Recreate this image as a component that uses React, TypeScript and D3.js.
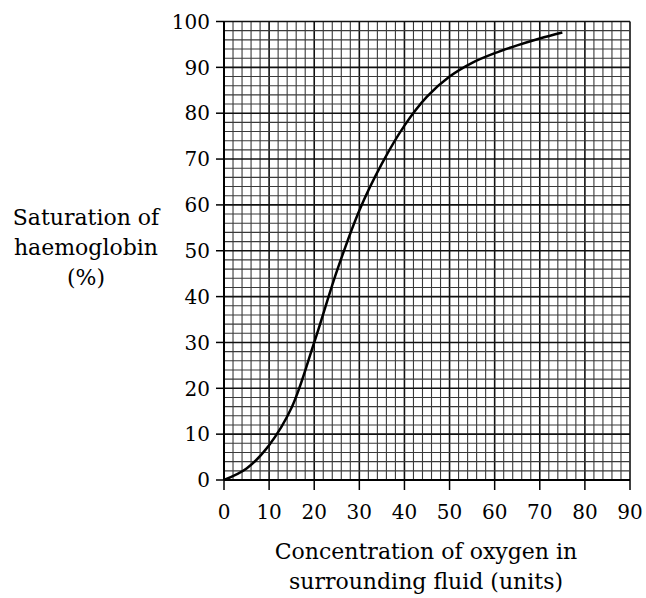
import React from "react";
import * as d3 from "d3";

const oxygen = [0, 5, 10, 15, 20, 25, 30, 35, 40, 45, 50, 55, 60, 65, 70, 75];
const saturation = [0, 2.5, 7.6, 15.8, 30, 45.5, 58.8, 69, 77.3, 83.6, 88.0, 91.0, 93.1, 94.8, 96.3, 97.6];
const xTicks = [0, 10, 20, 30, 40, 50, 60, 70, 80, 90];
const yTicks = [0, 10, 20, 30, 40, 50, 60, 70, 80, 90, 100];
const yTitle = ["Saturation of", "haemoglobin", "(%)"];
const xTitle = ["Concentration of oxygen in", "surrounding fluid (units)"];

const W = 646;
const H = 598;
const FONT = "'DejaVu Serif', serif";

export default function App() {
  const x = d3.scaleLinear().domain([0, 90]).range([224, 630]);
  const y = d3.scaleLinear().domain([0, 100]).range([480, 21.5]);

  const vMinor = d3.range(0, 90.001, 2);
  const hMinor = d3.range(0, 100.001, 2);

  const line = d3
    .line<number>()
    .x((_, i) => x(oxygen[i]))
    .y((d) => y(d))
    .curve(d3.curveCatmullRom.alpha(0.5));

  return (
    <svg
      width={W}
      height={H}
      style={{ position: "absolute", left: 0, top: 0, background: "#fff" }}
    >
      <g>
        {vMinor.map((v) => {
          const major = v % 10 === 0;
          return (
            <line
              key={"v" + v}
              x1={x(v)}
              x2={x(v)}
              y1={y(0)}
              y2={y(100)}
              stroke={major ? "#111" : "#3a3a3a"}
              strokeWidth={major ? 1.6 : 1.1}
            />
          );
        })}
        {hMinor.map((v) => {
          const major = v % 10 === 0;
          return (
            <line
              key={"h" + v}
              x1={x(0)}
              x2={x(90)}
              y1={y(v)}
              y2={y(v)}
              stroke={major ? "#111" : "#3a3a3a"}
              strokeWidth={major ? 1.6 : 1.1}
            />
          );
        })}
        <line x1={x(0)} x2={x(0)} y1={y(0)} y2={y(100)} stroke="#000" strokeWidth={2} />
        <line x1={x(0)} x2={x(90)} y1={y(0)} y2={y(0)} stroke="#000" strokeWidth={2} />
      </g>
      <g>
        {yTicks.map((t) => (
          <g key={"yt" + t}>
            <line x1={x(0) - 8} x2={x(0)} y1={y(t)} y2={y(t)} stroke="#000" strokeWidth={1.5} />
            <text
              x={210}
              y={y(t)}
              dy="0.36em"
              textAnchor="end"
              fontFamily={FONT}
              fontSize={20}
              fill="#000"
            >
              {t}
            </text>
          </g>
        ))}
        {xTicks.map((t) => (
          <g key={"xt" + t}>
            <line x1={x(t)} x2={x(t)} y1={y(0)} y2={y(0) + 10} stroke="#000" strokeWidth={1.5} />
            <text
              x={x(t)}
              y={519}
              textAnchor="middle"
              fontFamily={FONT}
              fontSize={20}
              fill="#000"
            >
              {t}
            </text>
          </g>
        ))}
      </g>
      <path d={line(saturation) || ""} fill="none" stroke="#000" strokeWidth={2.5} />
      <g fontFamily={FONT} fontSize={22} fill="#000" textAnchor="middle">
        {yTitle.map((s, i) => (
          <text key={"yl" + i} x={86} y={225 + i * 30}>
            {s}
          </text>
        ))}
        {xTitle.map((s, i) => (
          <text key={"xl" + i} x={426} y={559 + i * 30}>
            {s}
          </text>
        ))}
      </g>
    </svg>
  );
}
